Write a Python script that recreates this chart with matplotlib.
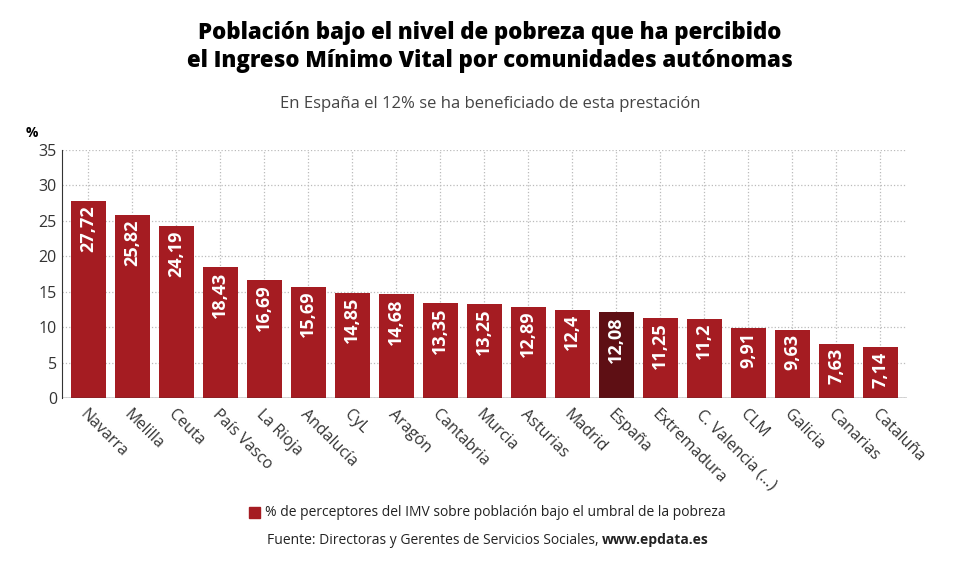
import matplotlib
matplotlib.use("Agg")
import matplotlib.pyplot as plt

categories = ["Navarra","Melilla","Ceuta","País Vasco","La Rioja","Andalucía","CyL","Aragón",
              "Cantabria","Murcia","Asturias","Madrid","España","Extremadura","C. Valencia (...)",
              "CLM","Galicia","Canarias","Cataluña"]
values = [27.72,25.82,24.19,18.43,16.69,15.69,14.85,14.68,13.35,13.25,12.89,12.4,12.08,11.25,11.2,9.91,9.63,7.63,7.14]
labels = ["27,72","25,82","24,19","18,43","16,69","15,69","14,85","14,68","13,35","13,25","12,89","12,4","12,08","11,25","11,2","9,91","9,63","7,63","7,14"]

plt.rcParams['font.family'] = ['Open Sans', 'DejaVu Sans']
fig = plt.figure(figsize=(9.8, 5.76), dpi=100)
ax = fig.add_axes([0.063, 0.309, 0.862, 0.431])
colors = ["#5e0f14" if c == "España" else "#a51c22" for c in categories]
x = range(len(categories))
ax.bar(x, values, width=0.8, color=colors, zorder=3)
for i, (v, l) in enumerate(zip(values, labels)):
    ax.text(i, v - 0.6, l, rotation=90, ha='center', va='top', color='white',
            fontsize=13, fontweight='bold', zorder=4)
ax.set_xlim(-0.6, len(categories) - 0.4)
ax.set_ylim(0, 35)
ax.set_yticks(range(0, 36, 5))
ax.set_xticks(list(x))
ax.set_xticklabels(categories, rotation=-45, ha='left', rotation_mode='anchor', fontsize=11.5, color='#333333')
ax.tick_params(axis='y', labelsize=11.5, colors='#333333', length=0)
ax.tick_params(axis='x', length=0, pad=6)
ax.grid(True, color='#bbbbbb', linestyle=':', linewidth=0.9, zorder=0)
for s in ['top', 'right', 'bottom']:
    ax.spines[s].set_visible(False)
ax.spines['left'].set_color('#333333')
ax.axhline(0, color='#333333', linewidth=1, zorder=5)
fig.text(0.026, 0.762, "%", fontsize=10, fontweight='bold')
fig.text(0.5, 0.918, "Población bajo el nivel de pobreza que ha percibido\nel Ingreso Mínimo Vital por comunidades autónomas",
         ha='center', va='center', fontsize=16, fontweight='heavy', linespacing=1.2)
fig.text(0.5, 0.82, "En España el 12% se ha beneficiado de esta prestación", ha='center', va='center',
         fontsize=12, color='#444444')
fig.patches.append(matplotlib.patches.Rectangle((0.254, 0.1), 0.011, 0.019, transform=fig.transFigure,
                                                 color="#a51c22", figure=fig))
fig.text(0.27, 0.11, "% de perceptores del IMV sobre población bajo el umbral de la pobreza", va='center',
         fontsize=10, color='#222222')
t1 = fig.text(0.272, 0.062, "Fuente: Directoras y Gerentes de Servicios Sociales, ", va='center',
              fontsize=10, color='#222222')
fig.canvas.draw()
bb = t1.get_window_extent()
fig.text(bb.x1 / fig.bbox.width, 0.062, "www.epdata.es", va='center', fontsize=10,
         fontweight='bold', color='#222222')
fig.savefig("out.png", dpi=100)
